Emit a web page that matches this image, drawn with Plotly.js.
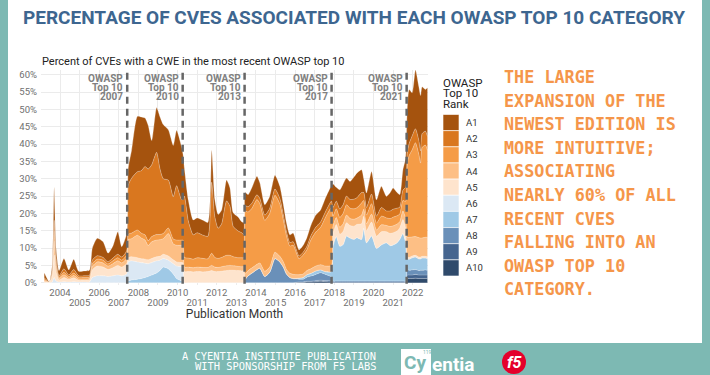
<!DOCTYPE html>
<html><head><meta charset="utf-8">
<script src="https://cdn.plot.ly/plotly-3.0.1.min.js"></script>
<style>html,body{margin:0;padding:0;background:#7db9b3;}#chart{width:710px;height:375px;}</style>
</head><body><div id="chart"></div>
<script>
// publication month (decimal year)
const months = [2003.2,2003.45,2003.6,2003.7,2003.8,2003.95,2004.2,2004.45,2004.7,2004.95,
2005.25,2005.5,2005.65,2005.9,2006.2,2006.45,2006.7,2006.95,2007.15,2007.4,
2007.48,2007.65,2007.95,2008.15,2008.34,2008.5,2008.68,2008.93,2009.1,2009.27,
2009.53,2009.78,2009.95,2010.2,2010.28,2010.35,2010.55,2010.8,2011.0,2011.3,
2011.55,2011.74,2011.9,2012.07,2012.25,2012.5,2012.67,2012.84,2013.1,2013.27,
2013.38,2013.45,2013.6,2013.8,2014.05,2014.2,2014.45,2014.7,2014.97,2015.22,
2015.4,2015.56,2015.73,2015.9,2016.2,2016.41,2016.6,2016.8,2017.05,2017.3,
2017.55,2017.85,2017.93,2018.1,2018.28,2018.45,2018.62,2018.8,2019.0,2019.15,
2019.39,2019.5,2019.64,2019.9,2020.15,2020.4,2020.66,2020.85,2021.0,2021.2,
2021.34,2021.5,2021.64,2021.72,2021.82,2021.97,2022.14,2022.31,2022.4,2022.48,
2022.65,2022.75];

const A1 = [1.5,0.1,1.5,9.5,3,1.5,3,1.5,3,1.3,1.4,1.5,3.5,5,4.5,2.5,3.5,6.5,3,5,
5,8,16,15.5,14,12.6,7,12.9,15,15.6,14.5,14.8,16,15.3,13,
8,6,4.3,4.3,4.3,4,9.2,5,4,4,6,5.3,4,4,3.2,3.5,
3.8,3.5,4.5,5.3,4.5,3,3.5,4,3.5,3,2.5,2.2,2.5,1.8,2,2.5,3,3.5,3.5,4,4.5,
6.8,4,5.5,6,5.2,5.2,6.4,7.1,6.6,4,4.2,6.5,4.7,6.1,4.2,5.3,6.1,4.5,3.6,5.9,8.5,
13,15.5,12.5,17,15.5,16,13.5,12,14];
const A2 = [0.5,0,0.7,3,1.5,0.5,1,0.5,1,0.5,0.5,0.5,1,1,0.8,0.6,0.8,1,0.9,1.2,
14,15.8,16.8,18,19.7,20.7,20.7,23.7,19,15.8,13.8,12.2,15.7,11.7,11.7,
17.7,10.7,7,7.2,6.7,6.5,20.5,11.7,8.7,9.7,15.7,14.2,8.7,7.7,7.2,6.7,
1.5,1.5,1.5,1.4,1.5,1.5,1.5,1.8,1.6,1.5,1.2,1,1,0.8,0.8,1,1.2,1.4,1.5,1.6,1.8,
2.5,2.2,2.5,2.5,2.5,2.5,2.8,2.9,3,2.3,2.2,2.8,2,2.5,2,2.2,2.3,2.2,2,3,4,
3,3.5,4,4,4,3.5,4,4,4];
const A3 = [0.3,0,0.5,3,1,0.3,0.7,0.4,0.7,0.4,0.4,0.4,0.8,0.8,0.8,0.6,0.8,0.9,0.8,1,
1.5,1.6,1.5,1.4,1.5,1.4,1.5,1.6,1.5,1.5,1.6,1.4,1.5,1.5,1.5,
2.8,2.6,2.5,2.7,2.6,2.5,3.5,2.8,2.6,2.7,3,2.9,2.6,2.5,2.6,2.6,
18.2,16.9,17.2,18.7,17.1,14.7,15.4,16.4,15.1,12,9.7,7.9,8.4,4.6,5.5,6,8.3,9.8,10.8,14.1,16.7,
3,2.5,2.8,3,3,3,3,3,3.5,2.5,2.5,3,2,2.5,2.2,2.3,2.5,2.4,2.2,3,5,
21.1,23.6,25.1,27.1,24.1,21.6,26.1,26.6,25.1];
const A4 = [0.3,0,0.8,4,1.5,0.4,0.8,0.4,0.7,0.4,0.4,0.4,1,1.2,1.2,1,1.2,1.3,1.2,1.5,
5.3,5.2,6.5,6,5.5,4.1,4.8,4.8,4.8,4.5,6.5,4.6,4.8,5,5.1,
1.3,1.3,1.2,1.3,1.3,1.2,1.5,1.3,1.2,1.3,1.4,1.4,1.3,1.2,1.2,1.2,
1.5,1.5,1.5,1.5,1.5,1.5,1.5,1.8,1.6,1.5,1.3,1.2,1.2,1,1,1.2,1.3,1.4,1.5,1.6,1.8,
2.2,2,2,2.2,2.2,2,2,1.8,2.5,2,2,2.3,1.8,2,1.8,2,2,2,1.8,2.5,3,
5.6,5.8,5.5,5.4,5.6,5.5,5.3,5.5,5.6];
const A5 = [0.3,0.2,1.3,6.5,2.5,0.6,1.2,0.7,1.1,0.5,0.5,0.6,2.2,2.8,2.5,2,2.3,2.8,2.5,3,
1.2,1.2,1.2,1.1,1.2,1.1,1.2,1.2,1.1,1.2,1.2,1.1,1.2,1.2,1.2,
3.2,3.2,3.1,3.2,3.1,3.2,3.5,3.2,3.2,3.3,3.5,3.6,3.6,3.5,3.4,3.4,
0,0,0,0,0,0,0,0,0,0,0,0,0,0,0,0,0,0,0,0,0,
3.5,3.5,3.5,3.8,3.8,3.6,3.8,3.8,4.5,3.5,3.5,4,3.5,3.8,3.2,3.5,3.5,3.4,3.3,4,4,
0.5,0.5,0.5,0.5,0.5,0.5,0.5,0.5,0.5];
const A6 = [0,0,0.2,1.5,0.5,0.2,0.3,0.2,0.3,0.2,0.2,0.2,1.5,2,2,1.8,2,2.2,2,2.5,
5.5,5.5,5,4.6,4.1,3.7,3.6,3.5,3,2.5,2.5,3,3.6,4.1,4.2,
0,0,0,0,0,0,0,0,0,0,0,0,0,0,0,0,
0,0,0,0,0,0,0,0,0,0,0,0,0,0,0,0,0,0,0,0,0,
0,0,0,0,0,0,0,0,0,0,0,0,0,0,0,0,0,0,0,0,0,
0,0,0,0,0,0,0,0,0];
const A7 = [0,0,0,0,0,0,0,0,0,0,0,0,0,0,0,0,0,0,0,0,
0.5,0.8,1,1.2,1.5,1.8,2.2,2.8,3.5,4.5,4,2.5,1.2,0.5,0.3,
0,0,0,0,0,0,0,0,0,0,0,0,0,0,0,0,
0,0,0,0,0,0,0,0,0,0,0,0,0,0.3,0.5,0.7,0.8,1,0.8,0.8,1.5,
10,12.8,10,10.5,13,12.4,12,12.5,12,15.2,11,13,9.4,10.4,11,10.2,10.4,11,12,13.7,11,
3.4,3.2,3.5,3.6,3.4,3.3,3.5,3.4,3.4];
const A8 = [0,0,0,0,0,0,0,0,0,0,0,0,0,0,0,0,0,0,0,0,
0,0,0,0,0,0,0,0,0,0,0,0,0,0,0,
0,0,0,0,0,0,0,0,0,0,0,0,0,0,0,0,
1,2,2.8,3.8,4.2,1.8,3,7,6,4.5,2.5,1.5,1.2,0.8,0.8,1.2,1.5,1.8,2.2,1.8,1.2,
0.3,0.3,0.3,0.3,0.3,0.3,0.3,0.3,0.3,0.3,0.3,0.3,0.3,0.3,0.3,0.3,0.3,0.3,0.3,0.3,0.3,
1.4,1.4,1.5,1.4,1.3,1.4,1.4,1.5,1.4];
const A9 = [0,0,0,0,0,0,0,0,0,0,0,0,0,0,0,0,0,0,0,0,
0,0,0,0,0,0,0,0,0,0,0,0,0,0,0,
0,0,0,0,0,0,0,0,0,0,0,0,0,0,0,0,
0,0,0,0,0,0,0,0,0,0,0,0,0,0.1,0.1,0.2,0.2,0.3,0.3,0.3,0.3,
0.2,0.2,0.2,0.2,0.2,0.2,0.2,0.2,0.2,0.2,0.2,0.2,0.2,0.2,0.2,0.2,0.2,0.2,0.2,0.2,0.2,
1,1,1,1.1,1,1,1,1,1];
const A10 = [0,0,0,0,0,0,0,0,0,0,0,0,0,0,0,0,0,0,0,0,
0,0,0,0,0,0,0,0,0,0,0,0,0,0,0,
0,0,0,0,0,0,0,0,0,0,0,0,0,0,0,0,
0,0,0,0,0,0,0,0,0,0,0,0,0,0.1,0.1,0.2,0.2,0.3,0.4,0.3,0.2,
0,0,0,0,0,0,0,0,0,0,0,0,0,0,0,0,0,0,0,0,0,
1.2,1.2,1.2,1.3,1.2,1.2,1.2,1.2,1.2];

const rankNames = ['A1','A2','A3','A4','A5','A6','A7','A8','A9','A10'];
const rankColors = ['#a5530e','#d9771f','#f59c47','#fdbf85','#fee4cd','#dbe8f4','#9fc9e6','#6a90b9','#45658f','#2f4a6b'];
const rankSeries = [A1,A2,A3,A4,A5,A6,A7,A8,A9,A10];

const editionDates = [2007.43, 2010.26, 2013.42, 2017.86, 2021.69];
const editionYears = ['2007','2010','2013','2017','2021'];
const yTicks = [0,5,10,15,20,25,30,35,40,45,50,55,60];
const oddYears = [2005,2007,2009,2011,2013,2015,2017,2019,2021];
const allYears = [2004,2005,2006,2007,2008,2009,2010,2011,2012,2013,2014,2015,2016,2017,2018,2019,2020,2021,2022];

const sideText = ['THE LARGE','EXPANSION OF THE','NEWEST EDITION IS','MORE INTUITIVE;','ASSOCIATING','NEARLY 60% OF ALL','RECENT CVES','FALLING INTO AN','OWASP TOP 10','CATEGORY.'];

// pixel -> paper helpers (layout only)
const PL=41, PR=428, PT=70, PB=285;
const px = v => (v-PL)/(PR-PL);
const py = v => (PB-v)/(PB-PT);

const traces = [];
for (let i = 9; i >= 0; i--) {
  traces.push({
    x: months, y: rankSeries[i], type:'scatter', mode:'lines', stackgroup:'one',
    name: rankNames[i], fillcolor: rankColors[i],
    line:{shape:'spline', smoothing:0.6, width:0.6, color:'rgba(255,255,255,0.45)'},
    showlegend:false, hoverinfo:'skip'
  });
}
traces.push({x:[], y:[], xaxis:'x2', yaxis:'y', type:'scatter', showlegend:false});

const shapes = [];
const annotations = [];
shapes.push({type:'rect', xref:'paper', yref:'paper', x0:px(8), x1:px(702), y0:py(343), y1:py(0), fillcolor:'#ffffff', line:{width:0}, layer:'below'});

const tickFont = {family:'Roboto', size:9.5, color:'#6f6f6f'};
const edFont = {family:'Roboto', size:10, color:'#808080', weight:'bold'};
editionDates.forEach((d,i) => {
  shapes.push({type:'line', xref:'x', yref:'y', x0:d, x1:d, y0:-0.3, y1:60.8,
    line:{color:'#666666', width:2.5, dash:'7px,5px'}});
  const lines = ['OWASP','Top 10', editionYears[i]];
  lines.forEach((t,k) => {
    annotations.push({xref:'x', yref:'paper', x:d, y:py(78.5+9*k), text:t, showarrow:false, borderpad:0,
      xanchor:'right', yanchor:'middle', xshift:-3, font:edFont});
  });
});

// legend (manual)
['OWASP','Top 10','Rank'].forEach((t,k) => {
  annotations.push({xref:'paper', yref:'paper', x:px(442), y:py(83+10.5*k), text:t, showarrow:false, borderpad:0,
    xanchor:'left', yanchor:'middle', font:{family:'Roboto', size:11.5, color:'#222'}});
});
rankNames.forEach((n,i) => {
  const top = 114.5 + 16.15*i;
  shapes.push({type:'rect', xref:'paper', yref:'paper', x0:px(443), x1:px(459), y0:py(top+16.15), y1:py(top),
    fillcolor:rankColors[i], line:{color:'#ffffff', width:0.6}});
  annotations.push({xref:'paper', yref:'paper', x:px(464), y:py(top+8.1), text:n, showarrow:false,
    xanchor:'left', yanchor:'middle', font:{family:'Roboto', size:9.5, color:'#333'}});
});

// subtitle
annotations.push({xref:'paper', yref:'paper', x:px(40), y:py(61), text:'Percent of CVEs with a CWE in the most recent OWASP top 10',
  showarrow:false, xanchor:'left', yanchor:'middle', font:{family:'Roboto', size:11, color:'#222'}});

// side text
sideText.forEach((t,k) => {
  annotations.push({xref:'paper', yref:'paper', x:px(502), y:py(77+23.6*k), text:t, showarrow:false,
    xanchor:'left', yanchor:'middle', font:{family:'DejaVu Sans Mono', size:16.8, color:'#f5964a', weight:'bold'}});
});

// footer
['A CYENTIA INSTITUTE PUBLICATION','WITH SPONSORSHIP FROM F5 LABS'].forEach((t,k) => {
  annotations.push({xref:'paper', yref:'paper', x:px(377), y:py(356+10*k), text:t, showarrow:false, borderpad:0,
    xanchor:'right', yanchor:'middle', font:{family:'DejaVu Sans Mono', size:10.4, color:'#ffffff'}});
});
shapes.push({type:'rect', xref:'paper', yref:'paper', x0:px(401), x1:px(431), y0:py(375), y1:py(349), fillcolor:'#ffffff', line:{width:0}});
annotations.push({xref:'paper', yref:'paper', x:px(415), y:py(362.5), text:'Cy', showarrow:false, xanchor:'center', yanchor:'middle', borderpad:0,
  font:{family:'Roboto', size:19, color:'#7db9b3', weight:'bold'}});
annotations.push({xref:'paper', yref:'paper', x:px(430), y:py(364), text:'entia', showarrow:false, xanchor:'left', yanchor:'middle',
  font:{family:'Roboto', size:19, color:'#ffffff', weight:'bold'}});
annotations.push({xref:'paper', yref:'paper', x:px(427), y:py(351.5), text:'119', showarrow:false, xanchor:'center', yanchor:'middle', borderpad:0,
  font:{family:'Roboto', size:5, color:'#7db9b3'}});
shapes.push({type:'circle', xref:'paper', yref:'paper', x0:px(502), x1:px(526), y0:py(374), y1:py(350), fillcolor:'#e4002b', line:{width:0}});
annotations.push({xref:'paper', yref:'paper', x:px(514), y:py(362), text:'f5', showarrow:false, xanchor:'center', yanchor:'middle',
  font:{family:'Roboto', size:16, color:'#ffffff', weight:'bold', style:'italic'}});

const layout = {
  width:710, height:375,
  margin:{l:PL, r:710-PR, t:PT, b:375-PB, pad:0},
  paper_bgcolor:'#7db9b3', plot_bgcolor:'#ffffff',
  showlegend:false, hovermode:false,
  title:{text:'PERCENTAGE OF CVES ASSOCIATED WITH EACH OWASP TOP 10 CATEGORY', xref:'container', yref:'container',
    x:354/710, xanchor:'center', y:1-17/375, yanchor:'middle',
    font:{family:'Roboto', size:19, color:'#3d6690', weight:'bold'}},
  xaxis:{range:[2003.03, 2022.78], tickvals:allYears, ticktext:allYears.map(y => (y%2===0 ? String(y) : '')),
    showgrid:true, gridcolor:'#ebebeb', gridwidth:1, zeroline:false, showline:false, ticks:'',
    tickfont:tickFont, ticklabelstandoff:0, fixedrange:true},
  xaxis2:{overlaying:'x', anchor:'y', side:'bottom', range:[2003.03, 2022.78], tickvals:oddYears, ticktext:oddYears.map(String),
    showgrid:false, zeroline:false, showline:false, ticks:'', tickfont:tickFont, ticklabelstandoff:10,
    title:{text:'Publication Month', font:{family:'Roboto', size:12, color:'#333'}, standoff:2}, fixedrange:true},
  yaxis:{range:[-0.66, 61.35], tickvals:yTicks, ticktext:yTicks.map(v => v+'%'), showgrid:true, gridcolor:'#ebebeb',
    gridwidth:1, zeroline:false, showline:false, ticks:'', tickfont:tickFont, ticklabelstandoff:3, fixedrange:true},
  shapes:shapes, annotations:annotations
};

Plotly.newPlot('chart', traces, layout, {staticPlot:true, displayModeBar:false});
</script>
</body></html>
